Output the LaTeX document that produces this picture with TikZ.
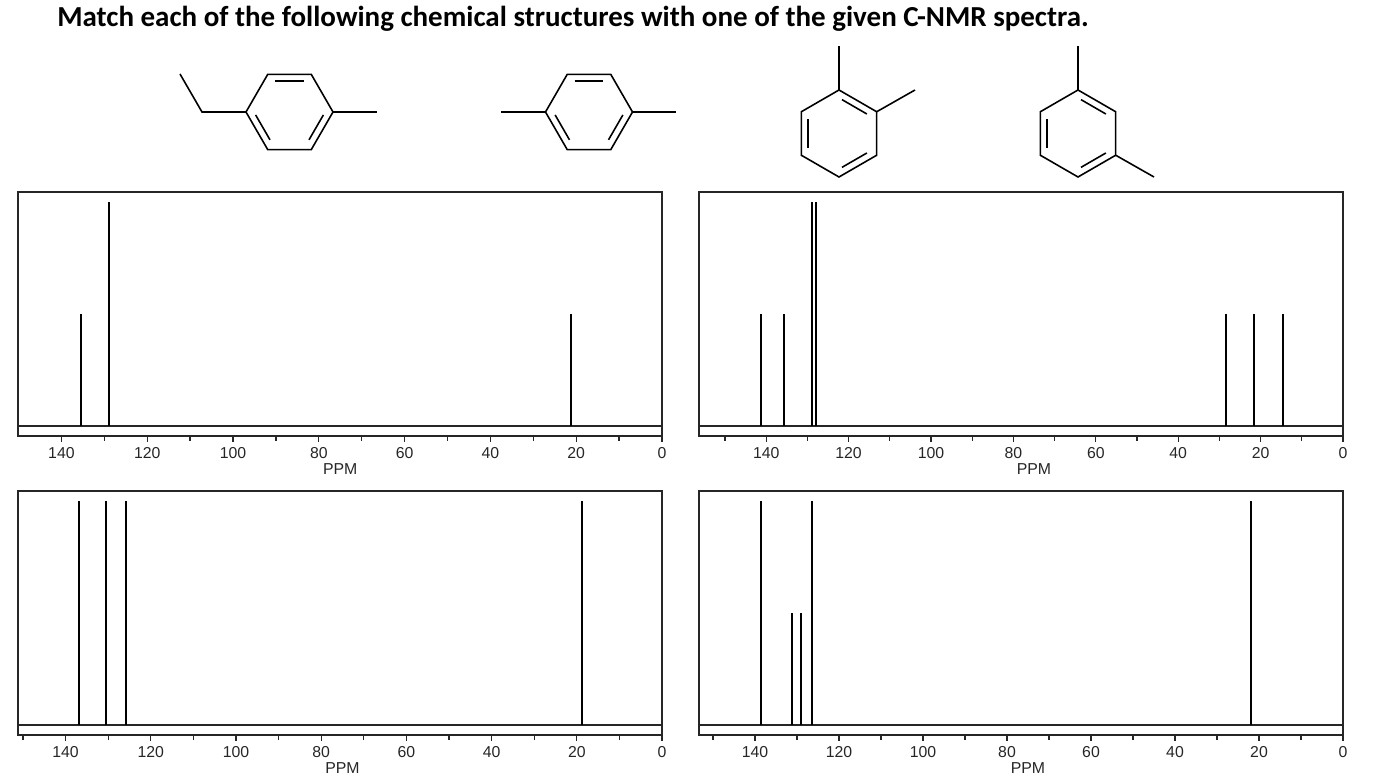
\documentclass[tikz,border=0pt]{standalone}
\usepackage{fontspec}
\setmainfont{Liberation Sans}
\newfontfamily\titlefont{Carlito}
\usetikzlibrary{calc}
\tikzset{
  bond/.style={line width=0.9pt},
  peak/.style={line width=0.8pt},
  frame/.style={line width=0.7pt, draw=black!85},
  ticklabel/.style={font=\fontsize{9}{10}\selectfont, text=black!85},
}
% ring: centre, angle of first double bond edge start
\newcommand{\ring}[3]{%
  \draw[bond] ($(#1,#2)+(#3:43.5)$) \foreach \k in {1,...,5} {-- ($(#1,#2)+(#3+60*\k:43.5)$)} -- cycle;
  \foreach \k in {0,2,4}
    \draw[bond] ($(#1,#2)+(#3+60*\k+5:34)$) -- ($(#1,#2)+(#3+60*\k+55:34)$);
}
% spectrum frame: left x, x at 0 ppm, px per ppm, top y, baseline y
\newcommand{\spectrum}[5]{%
  \draw[frame] (#1,#4) rectangle (#2,#5+10);
  \draw[frame] (#1,#5) -- (#2,#5);
  \foreach \p in {0,20,...,140} {
    \draw[frame] (#2-#3*\p,#5+10) -- (#2-#3*\p,#5+16);
    \node[ticklabel] at (#2-#3*\p,#5+27) {\p};
  }
  \foreach \p in {10,30,...,150} {
    \pgfmathparse{(#2-#3*\p)>=#1+4 ? 1 : 0}
    \ifnum\pgfmathresult=1 \draw[frame] (#2-#3*\p,#5+10) -- (#2-#3*\p,#5+15);\fi
  }
  \node[ticklabel] at (#2-#3*75,#5+43) {PPM};
}
\begin{document}
\begin{tikzpicture}[x=0.02cm, y=-0.02cm]
\useasboundingbox (0,0) rectangle (1377,776);

% title
\node[anchor=base west, font=\titlefont\bfseries\fontsize{16.5}{18}\selectfont, inner sep=0] (title) at (57,27)
  {Match each of the following chemical structures with one of the given C-NMR spectra.};

% structures
\ring{289.5}{112}{0}
\draw[bond] (246,112) -- (202,112) -- (180,74);
\draw[bond] (333,112) -- (377,112);
\ring{589}{112}{0}
\draw[bond] (545.5,112) -- (501,112);
\draw[bond] (632.5,112) -- (676,112);
\ring{839}{133.5}{30}
\draw[bond] (839,90) -- (839,46);
\draw[bond] (876.7,111.75) -- (915,90);
\ring{1078}{133.5}{30}
\draw[bond] (1078,90) -- (1078,46);
\draw[bond] (1115.7,155.25) -- (1154,177);

% spectra
\spectrum{18}{662}{4.29}{192}{426}
\spectrum{699}{1343}{4.12}{192}{426}
\spectrum{18}{662}{4.26}{491}{725}
\spectrum{699}{1343}{4.2}{491}{725}

% peaks
\foreach \x/\h in {81/314, 109/202, 571/314}
  \draw[peak] (\x,426) -- (\x,\h);
\foreach \x/\h in {761/314, 784/314, 812/202, 816/202, 1226/314, 1254/314, 1283/314}
  \draw[peak] (\x,426) -- (\x,\h);
\foreach \x/\h in {79/501, 106/501, 126/501, 582/501}
  \draw[peak] (\x,725) -- (\x,\h);
\foreach \x/\h in {761/501, 792/613, 801/613, 812/501, 1251/501}
  \draw[peak] (\x,725) -- (\x,\h);
\end{tikzpicture}
\end{document}
